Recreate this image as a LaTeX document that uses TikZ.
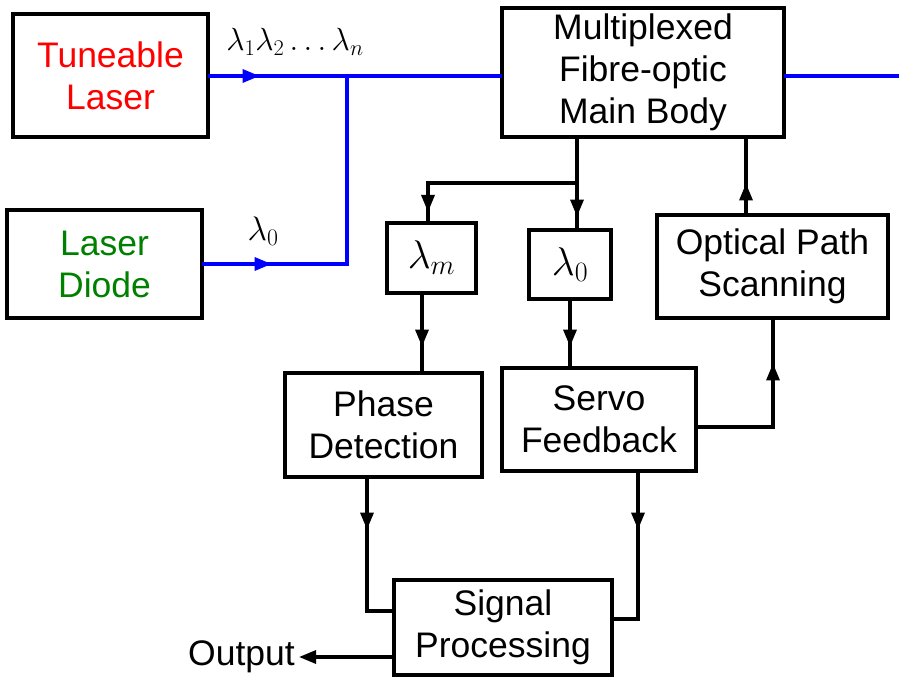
\RequirePackage{fix-cm}
\documentclass[tikz,border=0pt]{standalone}
\usepackage{fontspec}
\setmainfont{Liberation Sans}
\usetikzlibrary{arrows.meta,decorations.markings}
\definecolor{lgreen}{RGB}{0,128,0}
\begin{document}
\begin{tikzpicture}[x=1pt,y=-1pt,
  box/.style={draw, line width=3.2pt, inner sep=0pt, align=center,
    font=\fontsize{35.5}{42}\selectfont},
  wire/.style={line width=3.2pt, line join=miter, line cap=rect},
  blueline/.style={wire, draw=blue},
  midarrow/.style={postaction={decorate}, decoration={markings,
    mark=at position #1 with {\arrow{Triangle[length=17pt,width=13pt]}}}},
  lbl/.style={inner sep=0pt}
]
\useasboundingbox (0,0) rectangle (899,679);
% boxes
\node[box, minimum width=195pt, minimum height=123pt, text=red] (TL) at (110.5,75.5) {Tuneable\\Laser};
\node[box, minimum width=195pt, minimum height=108pt, text=lgreen] (LD) at (104.5,264) {Laser\\Diode};
\node[box, minimum width=282pt, minimum height=129pt] (MB) at (643,72.5) {Multiplexed\\Fibre-optic\\Main Body};
\node[box, minimum width=89pt, minimum height=70pt, font=\fontsize{40}{44}\selectfont] (lamm) at (431.5,258) {$\lambda_m$};
\node[box, minimum width=82pt, minimum height=69pt, font=\fontsize{40}{44}\selectfont] (lam0) at (570,264.5) {$\lambda_0$};
\node[box, minimum width=231pt, minimum height=103pt] (OPS) at (772.5,266.5) {Optical Path\\Scanning};
\node[box, minimum width=197pt, minimum height=104pt] (PD) at (383.5,425) {Phase\\Detection};
\node[box, minimum width=194pt, minimum height=103pt] (SF) at (599,419.5) {Servo\\Feedback};
\node[box, minimum width=218pt, minimum height=95pt] (SP) at (503,627.5) {Signal\\Processing};
\node[lbl, inner xsep=4pt, anchor=east, font=\fontsize{35.5}{42}\selectfont] (Out) at (299,657) {Output};
% labels
\node[lbl, font=\fontsize{32}{36}\selectfont] (lab1) at (295,42) {$\lambda_1\lambda_2\ldots\lambda_n$};
\node[lbl, font=\fontsize{34}{38}\selectfont] (lab0) at (263,231) {$\lambda_0$};
% coordinates
\coordinate (J) at (347,76);
\coordinate (R) at (899,76);
\coordinate (sA) at (577,183);
\coordinate (sB) at (428,183);
\coordinate (cA) at (422,0);
\coordinate (cB) at (570,0);
\coordinate (cC) at (367,611);
\coordinate (cE) at (638,619);
\coordinate (cF) at (773,427);
\coordinate (cG) at (746,0);
% blue connectors
\draw[blueline, midarrow=50pt] (TL.east |- J) -- (MB.west |- J);
\draw[blueline, midarrow=68pt] (LD.east) -- (LD.east -| J) -- (J);
\draw[blueline] (MB.east |- R) -- (R);
% black connectors
\draw[wire, midarrow=78pt] (MB.south -| sA) -- (lam0.north -| sA);
\draw[wire, midarrow=178pt] (sA) -- (sB) -- (sB |- lamm.north);
\draw[wire, midarrow=52pt] (lamm.south -| cA) -- (PD.north -| cA);
\draw[wire, midarrow=46pt] (lam0.south -| cB) -- (SF.north -| cB);
\draw[wire, midarrow=51pt] (PD.south -| cC) -- (cC) -- (SP.west |- cC);
\draw[wire, midarrow=57pt] (SF.south -| cE) -- (cE) -- (SP.east |- cE);
\draw[wire, -{Triangle[length=17pt,width=13pt]}] (SP.west |- Out.east) -- (Out.east);
\draw[wire, midarrow=139pt] (SF.east |- cF) -- (cF) -- (OPS.south -| cF);
\draw[wire, midarrow=30pt] (OPS.north -| cG) -- (MB.south -| cG);
\end{tikzpicture}
\end{document}
